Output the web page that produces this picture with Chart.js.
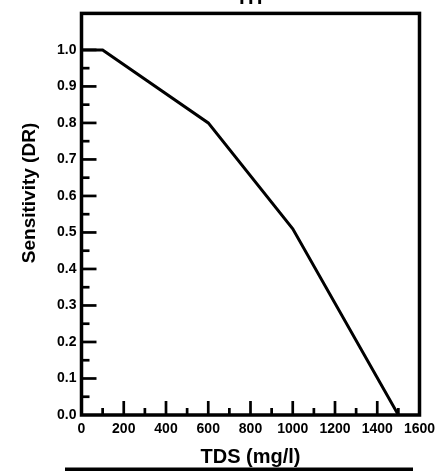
<!DOCTYPE html>
<html>
<head>
<meta charset="utf-8">
<script src="https://cdn.jsdelivr.net/npm/chart.js@4.4.1/dist/chart.umd.min.js"></script>
<style>
  html, body { margin: 0; padding: 0; background: #fff; }
  #wrap { width: 443px; height: 471px; position: relative; }
</style>
</head>
<body>
<div id="wrap"><canvas id="tdsChart" width="443" height="471"></canvas></div>
<script>
const tdsValues = [0, 100, 600, 1000, 1500];
const sensitivity = [1.0, 1.0, 0.8, 0.51, 0.0];
const xTickLabels = [0, 200, 400, 600, 800, 1000, 1200, 1400, 1600];
const yTickLabels = ['0.0', '0.1', '0.2', '0.3', '0.4', '0.5', '0.6', '0.7', '0.8', '0.9', '1.0'];

const FONT = '"Liberation Sans", Arial, sans-serif';

function xLabel(v) 
{
    return xTickLabels.includes(Math.round(v)) ? String(Math.round(v)) : '';
}
function yLabel(v) 
{
    const s = v.toFixed(2);
    const t = v.toFixed(1);
    return (s === t + '0' && yTickLabels.includes(t)) ? t : '';
}

// frame, inward tick marks, rotated y title, clipped top title, underline
const decorations = {
    id: 'decorations',
    afterDraw(chart) 
    {
        const ctx = chart.ctx;
        const area = chart.chartArea;
        const xs = chart.scales.x;
        const ys = chart.scales.y;
        ctx.save();
        ctx.strokeStyle = '#000';
        ctx.lineCap = 'butt';

        ctx.lineWidth = 2.7;
        xs.ticks.forEach(t => {
            if (t.value <= 0 || t.value >= 1600) return;
            const px = xs.getPixelForValue(t.value);
            const len = xLabel(t.value) ? 14 : 7;
            ctx.beginPath();
            ctx.moveTo(px, area.bottom);
            ctx.lineTo(px, area.bottom - len);
            ctx.stroke();
        });
        ys.ticks.forEach(t => {
            if (t.value <= 0 || t.value > 1.001) return;
            const py = ys.getPixelForValue(t.value);
            const len = yLabel(t.value) ? 15 : 8;
            ctx.beginPath();
            ctx.moveTo(area.left, py);
            ctx.lineTo(area.left + len, py);
            ctx.stroke();
        });

        ctx.lineWidth = 3.5;
        ctx.strokeRect(area.left, area.top, area.right - area.left, area.bottom - area.top);

        ctx.fillStyle = '#000';
        ctx.font = 'bold 19px ' + FONT;
        ctx.textAlign = 'center';
        ctx.textBaseline = 'middle';
        ctx.translate(30, 193);
        ctx.rotate(-Math.PI / 2);
        ctx.fillText('Sensitivity (DR)', 0, 0);
        ctx.restore();

        ctx.save();
        ctx.fillStyle = '#000';
        ctx.font = 'bold 20px ' + FONT;
        ctx.textAlign = 'center';
        ctx.textBaseline = 'alphabetic';
        ctx.fillText('TH', 249, 4);
        ctx.fillRect(65, 467.5, 348, 3.5);
        ctx.restore();
    }
};

const ctx = document.getElementById('tdsChart').getContext('2d');
new Chart(ctx, {
    type: 'line',
    data: 
    {
        datasets: 
        [{
            data: tdsValues.map((x, i) => ({ x: x, y: sensitivity[i] })),
            borderColor: '#000',
            borderWidth: 3,
            pointRadius: 0,
            tension: 0,
            fill: false
        }]
    },
    options: 
    {
        responsive: false,
        animation: false,
        layout: { padding: { top: 8.5, right: 23.5, left: 0, bottom: 0 } },
        plugins: 
        {
            legend: { display: false },
            tooltip: { enabled: false }
        },
        scales: 
        {
            x: 
            {
                type: 'linear',
                min: 0,
                max: 1600,
                afterFit: s => { s.height = 56; },
                grid: { display: false, drawTicks: false },
                border: { display: false },
                ticks: 
                {
                    stepSize: 100,
                    autoSkip: false,
                    maxRotation: 0,
                    padding: 6,
                    color: '#000',
                    font: { family: FONT, size: 14, weight: 'bold' },
                    callback: v => xLabel(v)
                },
                title: 
                {
                    display: true,
                    text: 'TDS (mg/l)',
                    color: '#000',
                    padding: { top: 0, bottom: 2 },
                    font: { family: FONT, size: 20, weight: 'bold' }
                }
            },
            y: 
            {
                type: 'linear',
                min: 0,
                max: 1.1,
                afterFit: s => { s.width = 81.5; },
                grid: { display: false, drawTicks: false },
                border: { display: false },
                ticks: 
                {
                    stepSize: 0.05,
                    autoSkip: false,
                    padding: 5,
                    color: '#000',
                    font: { family: FONT, size: 14, weight: 'bold' },
                    callback: v => yLabel(v)
                }
            }
        }
    },
    plugins: [decorations]
});
</script>
</body>
</html>
